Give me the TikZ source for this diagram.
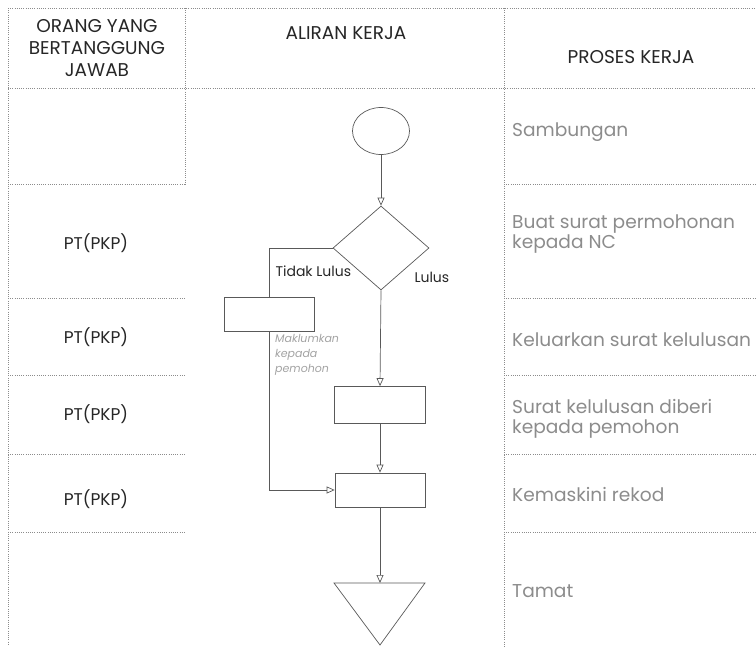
\documentclass[tikz,border=0pt]{standalone}
\usepackage{fontspec}
\setmainfont{Poppins}
\usetikzlibrary{shapes.geometric,arrows.meta}
\definecolor{rule}{gray}{0.55}
\definecolor{ink}{gray}{0.35}
\definecolor{soft}{gray}{0.55}
\tikzset{
  grid/.style={draw=rule, line width=0.6pt, dash pattern=on 1pt off 1.2pt},
  flow/.style={draw=ink, line width=0.7pt},
  link/.style={draw=ink, line width=0.7pt, -{Triangle[open,length=8pt,width=7pt]}},
  procbox/.style={flow, rectangle, minimum width=90pt, minimum height=34pt, inner sep=0pt},
  head/.style={text=black!85, font=\fontsize{18.5}{22}\selectfont, align=center},
  who/.style={text=black!85, font=\fontsize{17}{20}\selectfont},
  what/.style={text=soft, font=\fontsize{18.6}{20}\selectfont, anchor=base west, align=left, inner sep=0pt},
  tag/.style={text=black!85, font=\fontsize{14}{16}\selectfont}
}
\begin{document}
\begin{tikzpicture}[x=1pt,y=-1pt]
\useasboundingbox (0,0) rectangle (756,648);
% table rules
\draw[grid] (8,8) -- (756,8);
\draw[grid] (8,88) -- (756,88);
\draw[grid] (8,8) -- (8,645);
\draw[grid] (185,8) -- (185,185);
\draw[grid] (504,8) -- (504,648);
\foreach \yy in {184,298,375,454,532}{
  \draw[grid] (8,\yy) -- (185,\yy);
  \draw[grid] (504,\yy) -- (756,\yy);
}
% column headings
\node[head] (hwho) at (97,48) {ORANG YANG\\BERTANGGUNG\\JAWAB};
\node[head] (hflow) at (346,33) {ALIRAN KERJA};
\node[head] (hwhat) at (631,57) {PROSES KERJA};
% responsible parties
\node[who] (w1) at (96,243) {PT(PKP)};
\node[who] (w2) at (96,337) {PT(PKP)};
\node[who] (w3) at (96,414) {PT(PKP)};
\node[who] (w4) at (96,499) {PT(PKP)};
% process descriptions (base anchor sits on the last line)
\node[what] (p0) at (512,136) {Sambungan};
\node[what] (p1) at (512,248) {Buat surat permohonan\\kepada NC};
\node[what] (p2) at (512,346) {Keluarkan surat kelulusan};
\node[what] (p3) at (512,433) {Surat kelulusan diberi\\kepada pemohon};
\node[what] (p4) at (512,501) {Kemaskini rekod};
\node[what] (p5) at (512,597) {Tamat};
% flow shapes
\node[flow, ellipse, minimum width=57pt, minimum height=47pt, inner sep=0pt] (start) at (381,131) {};
\node[flow, diamond, aspect=1.14, minimum width=96pt, minimum height=84pt, inner sep=0pt] (dec) at (381,248) {};
\node[procbox] (rej) at (269,314) {};
\node[procbox, minimum width=91pt, minimum height=37pt] (b1) at (380,405) {};
\node[procbox] (b2) at (380,490) {};
\coordinate (endtop) at (380,583);
\draw[flow] (334,583) -- (425,583) -- (380,645) -- cycle;
% connectors
\draw[link] (start.south) -- (dec.north);
\draw[link] (dec.south) -- (b1.north);
\draw[link] (b1.south) -- (b2.north);
\draw[link] (b2.south) -- (endtop);
\draw[flow] (dec.west) -| (rej.north);
\draw[link] (rej.south) |- (b2.west);
% branch labels
\node[tag, anchor=west] (tno) at (272,271) {Tidak Lulus};
\node[tag, anchor=west] (tyes) at (411,277) {Lulus};
\node[text=soft!80, font=\fontsize{11}{15}\selectfont\itshape, anchor=north west, align=left, inner sep=0pt] (note) at (275,334) {Maklumkan\\kepada\\pemohon};
\end{tikzpicture}
\end{document}
